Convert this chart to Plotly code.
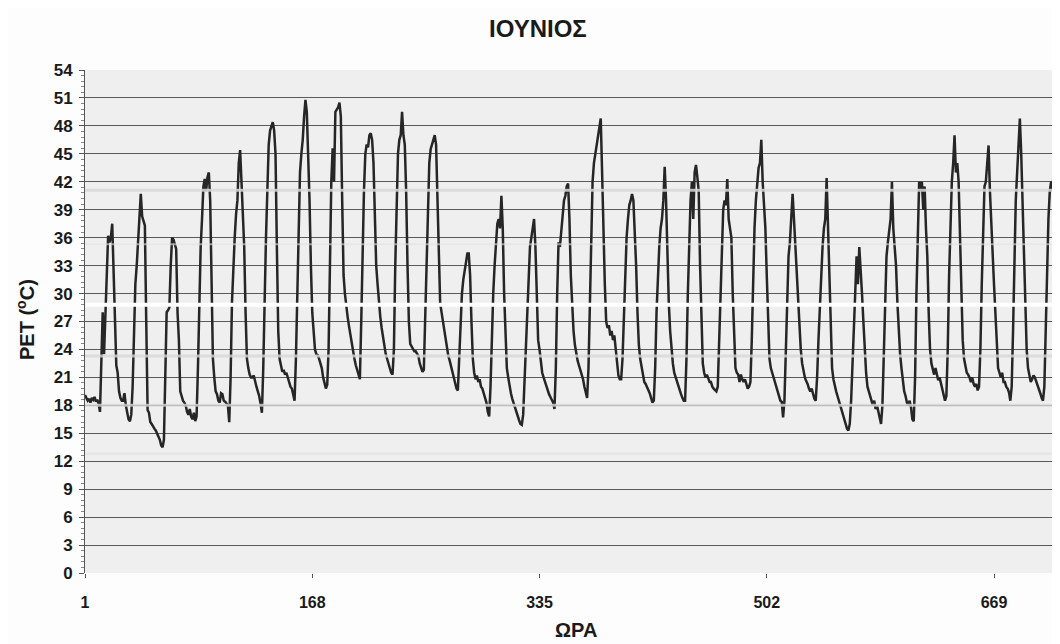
import plotly.graph_objects as go

# Hourly PET values (°C) for June
pet = [
    19.1, 18.8, 18.5, 18.7, 18.3, 18.8, 18.6, 18.9, 18.4, 18.6, 18.2, 17.3, 22, 28, 23.5, 28, 33, 36.2, 35.5, 36, 37.5, 32, 27, 22.3,
    21.5, 19.5, 18.8, 18.5, 18.5, 19.3, 18, 17.3, 16.5, 16.3, 17, 20, 27, 31, 33, 36, 38.5, 40.7, 38.3, 37.8, 37.3, 27, 17.5,
    17.2, 16.2, 16, 15.7, 15.5, 15.3, 15, 14.7, 14.3, 13.7, 13.5, 14.3, 22, 28, 28.2, 28.5, 33, 36, 35.8, 35.3, 34.8, 28, 25, 19.5,
    19, 18.5, 18.3, 18, 17.3, 17, 17.6, 16.8, 16.5, 17.2, 16.3, 16.8, 22, 30, 35, 38, 41.5, 42.3, 41, 42.5, 43, 40, 30, 23,
    21, 19.5, 19.2, 18.5, 18.3, 19.3, 19.2, 18.5, 18.4, 18.2, 18, 16.2, 21, 29, 33, 36, 38.5, 40, 44, 45.4, 42, 39, 35, 28,
    23, 22, 21.3, 21, 21, 21.2, 20.5, 20, 19.5, 19, 18.2, 17.2, 22, 30, 36, 41, 46, 47.5, 48, 48.4, 47.5, 45, 35, 26,
    23, 22.3, 21.6, 21.8, 21.3, 21.5, 21, 20.5, 20, 19.8, 19, 18.5, 23, 30, 38, 43, 45, 46.5, 49, 50.8, 49.5, 45, 40, 33,
    28, 26, 24, 23.5, 23.4, 23, 22.5, 22, 21, 20.3, 19.8, 20.2, 24, 33, 42, 45.6, 42, 49.5, 49.7, 50, 50.5, 49, 40, 32,
    30, 28.5, 27.5, 26.5, 25.5, 24.5, 23.7, 23, 22.3, 21.7, 21.2, 20.8, 27, 36, 41, 45, 46, 45.7, 47, 47.2, 46.5, 44, 38, 33,
    31, 29, 27.5, 26.3, 25.3, 24.3, 23.5, 23, 22.5, 22, 21.5, 21.3, 24, 33, 40, 45, 46.5, 47, 49.5, 47, 46, 41, 33, 27,
    24.6, 24.3, 24, 23.8, 23.8, 23.5, 23.3, 22.5, 22, 21.6, 21.8, 27, 35, 40, 44, 45.5, 46, 46.5, 47, 46, 41, 35, 29,
    28, 27, 26, 25, 24, 23.3, 22.8, 22.2, 21.5, 20.8, 20.3, 19.8, 19.6, 23, 27, 30, 31.5, 32.5, 33.5, 34.3, 34.3, 32, 27, 23,
    21.5, 20.8, 21.2, 20.5, 20.8, 20, 19.8, 19.2, 18.8, 18.3, 17.3, 16.8, 20, 26, 30, 33, 36, 37.5, 38, 37, 40.5, 37, 30, 25,
    22, 21, 20, 19.3, 18.7, 18.2, 17.8, 17.3, 16.8, 16.4, 16, 15.9, 17, 21, 25, 29, 33, 35, 36, 37, 38, 35, 30, 25,
    24, 22.5, 21.5, 21, 20.5, 20, 19.7, 19.2, 18.9, 18.6, 18.3, 17.6, 22, 30, 35.5, 35, 36.5, 38, 40, 40.5, 41.5, 41.8, 38, 32,
    28, 26, 24.5, 23.5, 22.8, 22.3, 21.8, 21.3, 20.8, 20, 19.5, 18.8, 22, 30, 37, 42, 44, 45, 46, 47, 48, 48.8, 43, 36,
    31, 27, 26.3, 26.6, 25.5, 26, 25, 25.5, 24, 22.5, 21.2, 20.8, 20.8, 23, 28, 33, 36, 38, 39.5, 40, 40.7, 40, 37, 33,
    28, 24.5, 23, 22, 21, 20.5, 20.3, 20, 19.7, 19.3, 18.8, 18.3, 18.5, 22, 28, 32, 35, 37, 38, 40, 43.6, 40, 34, 29,
    26, 24, 22.5, 21.5, 21, 20.5, 20, 19.5, 19.2, 18.8, 18.5, 18.5, 23, 30, 36, 40, 42, 38, 43, 43.8, 42.5, 41, 33, 26,
    22.5, 21.5, 21, 21.3, 20.8, 20.5, 20.5, 20, 19.8, 19.6, 19.5, 20, 25, 31, 36, 39, 40, 39.5, 42.3, 38, 37, 36, 30,
    25, 22, 21.5, 21.3, 20.5, 21.3, 20.8, 20.5, 20.8, 20.3, 19.8, 20, 20.5, 25, 32, 37, 40, 41.5, 43.5, 44, 46.5, 42, 40, 37,
    32, 27, 23, 22, 21.5, 21, 20.5, 19.8, 19.3, 18.8, 18.5, 18.4, 16.7, 18.5, 24, 30, 34, 35.5, 38, 40.7, 38, 35, 33, 29,
    26, 24, 22.5, 21.5, 21, 20.6, 20.3, 19.8, 19.5, 19.8, 19.3, 18.7, 18.5, 21, 25, 29, 31, 35, 37, 38, 42.4, 37, 31, 26,
    22, 20.8, 20, 19.5, 19, 18.5, 18, 17.5, 16.8, 16.5, 16, 15.5, 15.3, 16, 18.5, 23, 27, 30, 34, 31, 35, 33, 30, 27,
    24, 21.5, 20, 19.5, 19, 18.5, 18, 18.5, 17.6, 18, 17.3, 16.5, 16, 18, 23, 29, 34, 35.5, 36.5, 38, 42, 37, 35, 33,
    29, 26, 23.5, 22, 20.5, 19.5, 19, 18.3, 18, 18.5, 17.8, 16.5, 16.3, 21, 30, 36, 42, 41, 42, 39, 41.5, 37, 34, 28,
    24, 22.5, 22, 21.3, 22, 21.2, 20.7, 21, 20.3, 19.8, 19, 18.5, 19, 24, 32, 38, 42, 44, 47, 43, 44, 42, 36, 30,
    25, 23, 22, 21.5, 21.3, 21, 20.5, 21, 20.3, 20, 20.3, 19.6, 20, 24, 31, 38, 41.5, 42, 44, 45.9, 41, 37, 34, 31,
    28, 24, 22, 21.5, 21, 21.5, 20.5, 20.5, 20, 19.8, 19.4, 18.5, 20, 26, 34, 40, 43, 46, 48.8, 45, 40, 34, 28,
    24, 22, 21, 20.5, 20.8, 21.2, 21, 20.6, 20.3, 19.8, 19.3, 18.8, 18.5, 20, 25, 32, 38, 41, 42, 41, 43.6, 40, 42, 40, 36, 30, 25, 22,
]
hours = list(range(1, len(pet) + 1))

x_ticks = [1, 168, 335, 502, 669]
y_ticks = list(range(0, 55, 3))

title_text = "ΙΟΥΝΙΟΣ"
x_title = "ΩΡΑ"
y_title = "PET (<sup>o</sup>C)"

FONT = "Liberation Sans, Arial, sans-serif"

# figure geometry (page body adds an 8px offset)
W, H = 1052, 636
ML, MR, MT, MB = 77, 0, 62, 71
PW, PH = W - ML - MR, H - MT - MB

fig = go.Figure()
fig.add_trace(go.Scatter(
    x=hours, y=pet, mode="lines",
    line=dict(color="#262626", width=2.5),
    showlegend=False, hoverinfo="x+y",
))

# scan-like light bands across the plot area
bands = [(41.1, "rgba(215,215,215,0.85)", 3), (35.3, "rgba(225,225,225,0.6)", 2),
         (28.8, "rgba(255,255,255,1)", 4), (23.3, "rgba(215,215,215,0.8)", 3),
         (18.0, "rgba(215,215,215,0.8)", 3), (12.8, "rgba(225,225,225,0.7)", 2)]
for yv, col, w in bands:
    fig.add_shape(type="line", xref="paper", yref="y", x0=0, x1=1, y0=yv, y1=yv,
                  line=dict(color=col, width=w), layer="above")

fig.update_layout(
    width=W, height=H,
    margin=dict(l=ML, r=MR, t=MT, b=MB, pad=0),
    paper_bgcolor="#fdfdfd",
    plot_bgcolor="#efefef",
    font=dict(family=FONT, color="#1a1a1a"),
    showlegend=False,
    xaxis=dict(
        range=[1, 717.5], tickmode="array", tickvals=x_ticks,
        ticktext=[str(v) for v in x_ticks],
        tickfont=dict(family=FONT, size=16, color="#1a1a1a", weight="bold"),
        ticks="outside", ticklen=4, tickcolor="#555", ticklabelstandoff=11,
        showgrid=False, zeroline=False, showline=False,
    ),
    yaxis=dict(
        range=[0, 54], tickmode="array", tickvals=y_ticks,
        tickfont=dict(family=FONT, size=17, color="#1a1a1a", weight="bold"),
        ticks="outside", ticklen=5, tickcolor="#555", ticklabelstandoff=3,
        showgrid=True, gridcolor="#5a5a5a", gridwidth=1,
        zeroline=False, showline=True, linecolor="#555", linewidth=1,
        minor=dict(tick0=0, dtick=0.6, ticks="outside", ticklen=3, tickcolor="#888", showgrid=False),
    ),
    annotations=[
        dict(text="<b>" + title_text + "</b>", xref="paper", yref="paper",
             x=(529.5 - ML) / PW, y=1 + (MT - 21) / PH, xanchor="center", yanchor="middle",
             showarrow=False, font=dict(family=FONT, size=24, color="#1a1a1a")),
        dict(text="<b>" + x_title + "</b>", xref="paper", yref="paper",
             x=(568 - ML) / PW, y=-(622 - (MT + PH)) / PH, xanchor="center", yanchor="middle",
             showarrow=False, font=dict(family=FONT, size=20, color="#1a1a1a")),
        dict(text="<b>" + y_title + "</b>", xref="paper", yref="paper",
             x=-(ML - 17) / PW, y=((MT + PH) - 312) / PH, xanchor="center", yanchor="middle",
             textangle=-90, showarrow=False, font=dict(family=FONT, size=20, color="#1a1a1a")),
    ],
)

fig.write_html("out.html")
